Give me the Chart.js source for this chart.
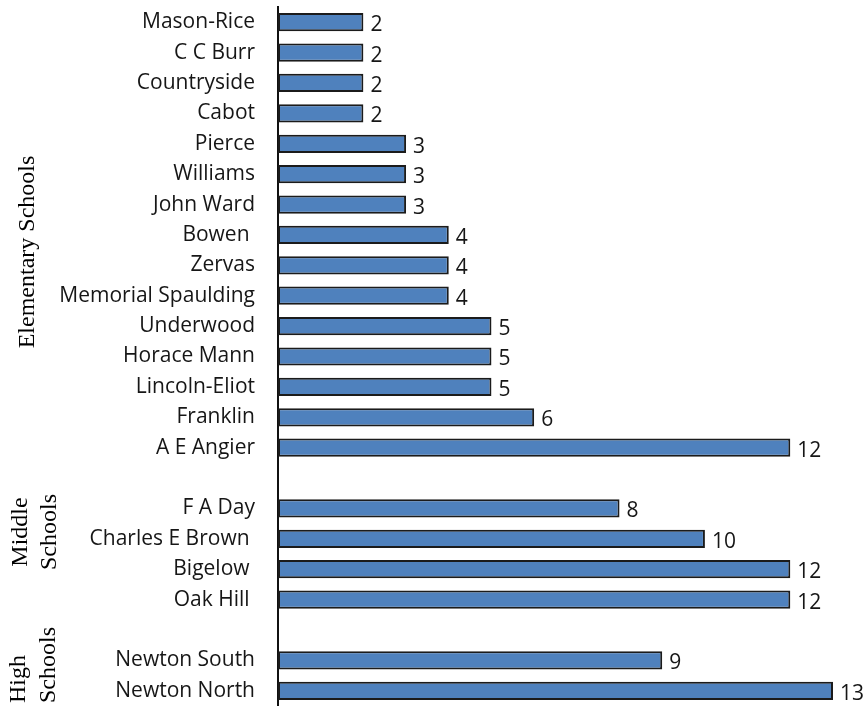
<!DOCTYPE html>
<html>
<head>
<meta charset="utf-8">
<title>Schools</title>
<script src="https://cdn.jsdelivr.net/npm/chart.js@4/dist/chart.umd.min.js"></script>
<style>
  html, body { margin: 0; padding: 0; background: #ffffff; }
  canvas { display: block; }
</style>
</head>
<body>
<canvas id="c" width="865" height="706"></canvas>
<script>
// School names and counts, grouped by level
const elementaryNames = ['Mason-Rice', 'C C Burr', 'Countryside', 'Cabot', 'Pierce', 'Williams', 'John Ward',
  'Bowen ', 'Zervas', 'Memorial Spaulding', 'Underwood', 'Horace Mann', 'Lincoln-Eliot', 'Franklin', 'A E Angier'];
const elementaryValues = [2, 2, 2, 2, 3, 3, 3, 4, 4, 4, 5, 5, 5, 6, 12];

const middleNames = ['F A Day', 'Charles E Brown ', 'Bigelow ', 'Oak Hill '];
const middleValues = [8, 10, 12, 12];

const highNames = ['Newton South', 'Newton North'];
const highValues = [9, 13];

const groupTitles = [['Elementary Schools'], ['Middle', 'Schools'], ['High', 'Schools']];

// One empty row separates the groups
const labels = [...elementaryNames, '', ...middleNames, '', ...highNames];
const values = [...elementaryValues, null, ...middleValues, null, ...highValues];

const TEXT = '#161616';

// Value printed just past the end of each bar
const valueLabels = {
  id: 'valueLabels',
  afterDatasetsDraw(chart) {
    const ctx = chart.ctx;
    const meta = chart.getDatasetMeta(0);
    ctx.save();
    ctx.font = '21px "Open Sans"';
    ctx.fillStyle = TEXT;
    ctx.textAlign = 'left';
    ctx.textBaseline = 'middle';
    meta.data.forEach((bar, i) => {
      const v = chart.data.datasets[0].data[i];
      if (v === null || v === undefined) return;
      ctx.fillText(String(v), bar.x + 7, bar.y + 3);
    });
    ctx.restore();
  }
};

// Vertical group captions on the left side
const groupCaptions = {
  id: 'groupCaptions',
  afterDraw(chart) {
    const ctx = chart.ctx;
    ctx.save();
    ctx.font = '24px "Liberation Serif"';
    ctx.fillStyle = '#000000';
    ctx.textBaseline = 'middle';
    const put = (text, x, y, align) => {
      ctx.save();
      ctx.translate(x, y);
      ctx.rotate(-Math.PI / 2);
      ctx.textAlign = align;
      ctx.fillText(text, 0, 0);
      ctx.restore();
    };
    put(groupTitles[0][0], 28, 252, 'center');
    put(groupTitles[1][0], 21, 532, 'center');
    put(groupTitles[1][1], 50, 532, 'center');
    put(groupTitles[2][0], 19, 703, 'left');
    put(groupTitles[2][1], 49, 703, 'left');
    ctx.restore();
  }
};

new Chart(document.getElementById('c'), {
  type: 'bar',
  data: {
    labels: labels,
    datasets: [{
      data: values,
      backgroundColor: '#4F81BD',
      borderColor: '#1b1b1b',
      borderWidth: 2,
      borderSkipped: false,
      barPercentage: 0.6,
      categoryPercentage: 1.0
    }]
  },
  options: {
    indexAxis: 'y',
    responsive: false,
    devicePixelRatio: 1,
    animation: false,
    layout: { padding: { top: 7, right: 32, bottom: 0, left: 0 } },
    plugins: {
      legend: { display: false },
      tooltip: { enabled: false },
      title: { display: false }
    },
    scales: {
      x: {
        display: false,
        min: 0,
        max: 13
      },
      y: {
        afterFit(scale) {
          scale.width = 278;
          scale.paddingTop = 0;
          scale.paddingBottom = 0;
        },
        grid: { display: false },
        border: { display: true, color: '#111111', width: 2 },
        ticks: {
          autoSkip: false,
          padding: 15,
          color: TEXT,
          font: { family: '"Open Sans"', size: 21 }
        }
      }
    }
  },
  plugins: [valueLabels, groupCaptions]
});
</script>
</body>
</html>
